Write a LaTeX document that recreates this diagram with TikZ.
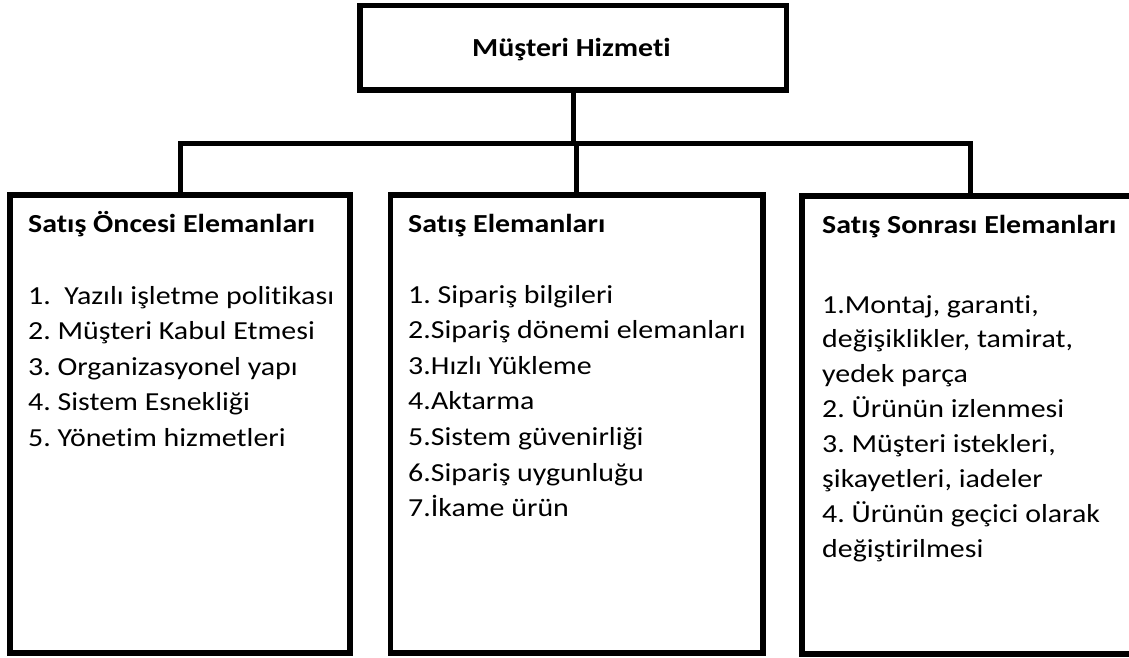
\documentclass[tikz,border=0pt]{standalone}
\usepackage{fontspec}
\setmainfont{Carlito}[FakeStretch=1.15, Ligatures=NoCommon]
\usetikzlibrary{shadows}
\frenchspacing

\begin{document}
\begin{tikzpicture}[x=1pt,y=-1pt,
  box/.style={draw=black, line width=5.5pt, fill=white, rectangle, inner sep=0pt,
    drop shadow={shadow xshift=0pt, shadow yshift=-2.5pt, fill=black, opacity=1}},
  conn/.style={draw=black, line width=5pt},
  txt/.style={anchor=base west, inner sep=0pt, align=left,
    font=\fontsize{26}{35.6}\selectfont},
  head/.style={txt, font=\fontsize{26}{35.6}\selectfont\bfseries},
]
\clip (0,0) rectangle (1129,657);
\fill[white] (0,0) rectangle (1129,657);

% boxes
\node[box, minimum width=426.5pt, minimum height=84.5pt] (top) at (573.25,47.75) {};
\node[box, minimum width=340pt, minimum height=458pt] (pre) at (180,424) {};
\node[box, minimum width=372.5pt, minimum height=458pt] (sale) at (576.75,424) {};
\node[box, minimum width=336pt, minimum height=458pt] (post) at (970,425) {};

% connectors
\coordinate (hub) at (573.25,143);
\draw[conn] (top.south) -- (hub);
\draw[conn] (pre.north) |- (hub) -| (post.north);
\draw[conn] (sale.north |- hub) -- (sale.north);

% title
\node[head, anchor=base] (title) at (571.5,56) {Müşteri Hizmeti};

% pre-sale column (list nodes are placed by the baseline of their last line)
\node[head] (preh) at (28,232) {Satış Öncesi Elemanları};
\node[txt] (prel) at (28,446.4) {1.\ \ Yazılı işletme politikası\\
2. Müşteri Kabul Etmesi\\
3. Organizasyonel yapı\\
4. Sistem Esnekliği\\
5. Yönetim hizmetleri};

% sale column
\node[head] (saleh) at (408,232) {Satış Elemanları};
\node[txt] (salel) at (408,516.6) {1. Sipariş bilgileri\\
2.Sipariş dönemi elemanları\\
3.Hızlı Yükleme\\
4.Aktarma\\
5.Sistem güvenirliği\\
6.Sipariş uygunluğu\\
7.İkame ürün};

% post-sale column
\node[head] (posth) at (822,233) {Satış Sonrası Elemanları};
\node[txt, font=\fontsize{26}{34.9}\selectfont] (postl) at (822,557.3) {1.Montaj, garanti,\\
değişiklikler, tamirat,\\
yedek parça\\
2. Ürünün izlenmesi\\
3. Müşteri istekleri,\\
şikayetleri, iadeler\\
4. Ürünün geçici olarak\\
değiştirilmesi};
\end{tikzpicture}
\end{document}
